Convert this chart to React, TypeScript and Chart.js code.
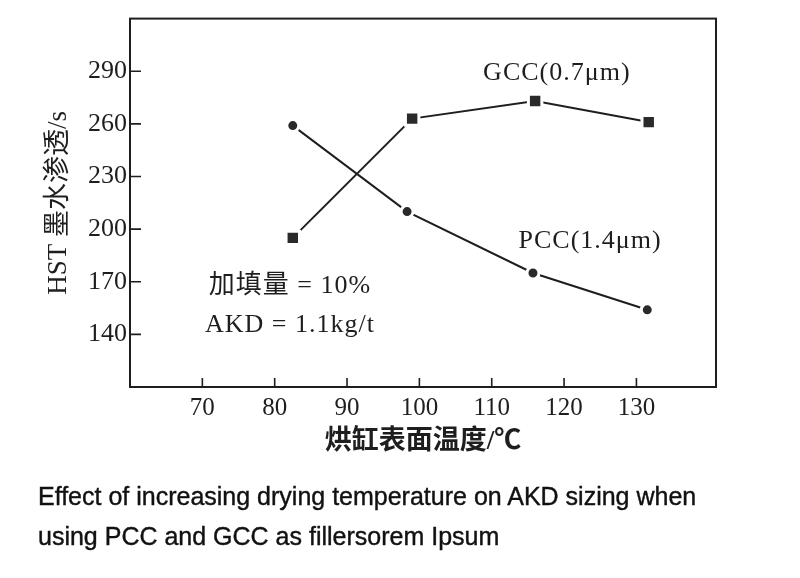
import React, { useEffect, useRef } from "react";
import { Chart, registerables } from "chart.js";

Chart.register(...registerables);

// Data
const pccTemps = [82.5, 98.3, 115.7, 131.5];
const pccHst = [259, 210, 175, 154];
const gccTemps = [82.5, 99, 116, 131.7];
const gccHst = [195, 263, 273, 261];
const xTickValues = [70, 80, 90, 100, 110, 120, 130];
const yTickValues = [140, 170, 200, 230, 260, 290];

const xTitle = "烘缸表面温度/℃";
const yTitle = "HST 墨水渗透/s";
const captionLines = [
  "Effect of increasing drying temperature on AKD sizing when",
  "using PCC and GCC as fillersorem Ipsum",
];

const noteTexts = ["GCC(0.7μm)", "PCC(1.4μm)", "加填量 = 10%", "AKD = 1.1kg/t"];
const noteAnchors = [
  { x: 119, y: 289 },
  { x: 123.6, y: 193 },
  { x: 82.1, y: 167.4 },
  { x: 82.1, y: 145 },
];

const INK = "#1e1e1e";
const SERIF = "'Liberation Serif', 'Noto Sans CJK SC', serif";

const framePlugin = {
  id: "frameAndTicks",
  beforeDatasetsDraw(chart: any) {
    const { ctx, chartArea } = chart;
    const xs = chart.scales.x;
    const ys = chart.scales.y;
    ctx.save();
    ctx.strokeStyle = INK;
    ctx.lineWidth = 2;
    ctx.strokeRect(chartArea.left, chartArea.top, chartArea.right - chartArea.left, chartArea.bottom - chartArea.top);
    ctx.lineWidth = 1.6;
    ctx.beginPath();
    for (const v of yTickValues) {
      const py = ys.getPixelForValue(v);
      ctx.moveTo(chartArea.left, py);
      ctx.lineTo(chartArea.left + 11, py);
    }
    for (const v of xTickValues) {
      const px = xs.getPixelForValue(v);
      ctx.moveTo(px, chartArea.bottom);
      ctx.lineTo(px, chartArea.bottom - 9);
    }
    ctx.stroke();
    ctx.restore();
  },
  afterDatasetsDraw(chart: any) {
    const { ctx } = chart;
    const xs = chart.scales.x;
    const ys = chart.scales.y;
    ctx.save();
    ctx.fillStyle = INK;
    ctx.textAlign = "center";
    ctx.textBaseline = "middle";
    ctx.font = `26px ${SERIF}`;
    try {
      (ctx as any).letterSpacing = "1px";
    } catch (e) {}
    noteTexts.forEach((t, i) => {
      const a = noteAnchors[i];
      ctx.fillText(t, xs.getPixelForValue(a.x), ys.getPixelForValue(a.y));
    });
    ctx.restore();
  },
};

export default function App() {
  const ref = useRef<HTMLCanvasElement | null>(null);

  useEffect(() => {
    if (!ref.current) return;
    const chart = new Chart(ref.current, {
      type: "line",
      data: {
        datasets: [
          {
            label: "PCC(1.4μm)",
            data: pccTemps.map((t, i) => ({ x: t, y: pccHst[i] })),
            borderColor: INK,
            borderWidth: 2,
            tension: 0,
            pointStyle: "circle",
            pointRadius: 6,
            pointBackgroundColor: "#2a2a2a",
            pointBorderColor: "#ffffff",
            pointBorderWidth: 3,
          },
          {
            label: "GCC(0.7μm)",
            data: gccTemps.map((t, i) => ({ x: t, y: gccHst[i] })),
            borderColor: INK,
            borderWidth: 2,
            tension: 0,
            pointStyle: "rect",
            pointRadius: 9.5,
            pointBackgroundColor: "#2a2a2a",
            pointBorderColor: "#ffffff",
            pointBorderWidth: 3,
          },
        ],
      },
      options: {
        animation: false,
        responsive: false,
        maintainAspectRatio: false,
        layout: { padding: { left: 43, top: 15, right: 84, bottom: 120 } },
        plugins: {
          legend: { display: false },
          tooltip: { enabled: false },
        },
        scales: {
          x: {
            type: "linear",
            min: 60,
            max: 141,
            grid: { display: false, drawTicks: false },
            border: { display: false },
            afterBuildTicks: (s: any) => {
              s.ticks = xTickValues.map((v) => ({ value: v }));
            },
            afterFit: (s: any) => {
              s.height = 71;
            },
            ticks: {
              autoSkip: false,
              maxRotation: 0,
              padding: 6,
              color: INK,
              font: { family: SERIF, size: 25 },
            },
            title: {
              display: true,
              text: xTitle,
              color: INK,
              padding: 0,
              font: { family: SERIF, size: 27, weight: "bold" },
            },
          },
          y: {
            type: "linear",
            min: 110,
            max: 320,
            grid: { display: false, drawTicks: false },
            border: { display: false },
            afterBuildTicks: (s: any) => {
              s.ticks = yTickValues.map((v) => ({ value: v }));
            },
            afterFit: (s: any) => {
              s.width = 87;
            },
            ticks: {
              autoSkip: false,
              padding: 3,
              color: INK,
              font: { family: SERIF, size: 26 },
            },
            title: {
              display: true,
              text: yTitle,
              color: INK,
              padding: 0,
              font: { family: SERIF, size: 27 },
            },
          },
        },
      },
      plugins: [framePlugin],
    });
    return () => chart.destroy();
  }, []);

  return (
    <div style={{ position: "fixed", left: 0, top: 0, width: 800, height: 578, background: "#fff" }}>
      <canvas ref={ref} width={800} height={578} style={{ position: "absolute", left: 0, top: 0, width: 800, height: 578 }} />
      <div
        style={{
          position: "absolute",
          left: 38,
          top: 476,
          fontFamily: "'Liberation Sans', Arial, sans-serif",
          fontSize: 25,
          lineHeight: "40px",
          color: "#111",
          whiteSpace: "nowrap",
          letterSpacing: "0px",
          WebkitTextStroke: "0.4px #111",
        }}
      >
        {captionLines.map((l, i) => (
          <div key={i}>{l}</div>
        ))}
      </div>
    </div>
  );
}
